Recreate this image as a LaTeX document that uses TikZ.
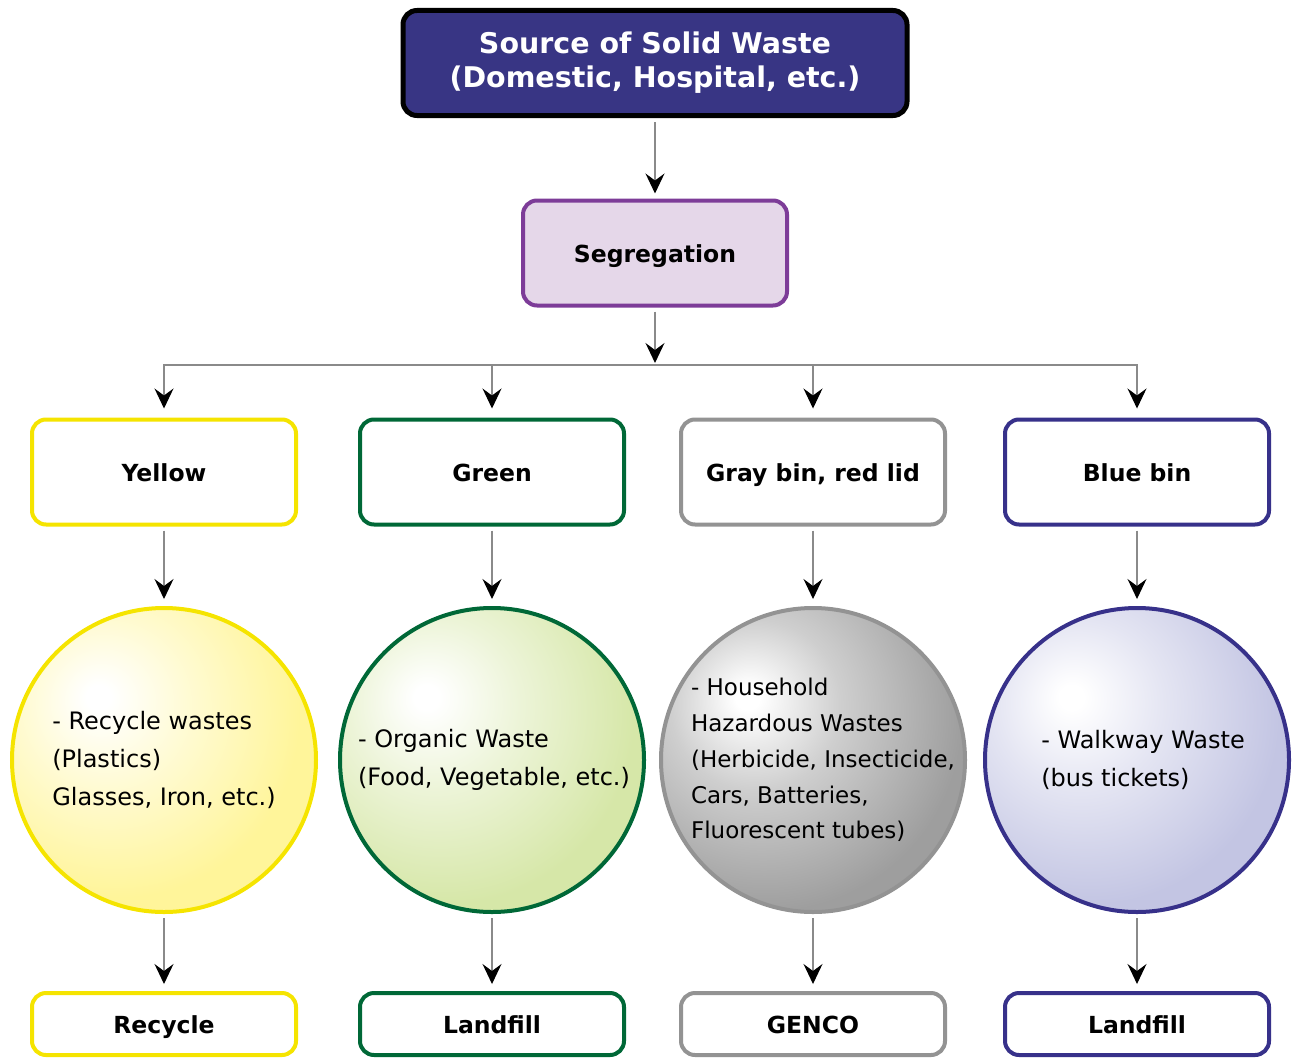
\documentclass[tikz,border=0pt]{standalone}
\usepackage{fontspec}
\setmainfont{DejaVu Sans}
\usetikzlibrary{shapes.geometric, arrows.meta, positioning}
\definecolor{sourceblue}{HTML}{383584}
\definecolor{segpurple}{HTML}{7D3C98}
\definecolor{segfill}{HTML}{E5D7E9}
\definecolor{binyellow}{HTML}{F5E400}
\definecolor{bingreen}{HTML}{006837}
\definecolor{bingray}{HTML}{939393}
\definecolor{binblue}{HTML}{37318A}
\definecolor{yellowfill}{HTML}{FFF59A}
\definecolor{greenfill}{HTML}{D6E7A8}
\definecolor{grayfill}{HTML}{9E9E9E}
\definecolor{bluefill}{HTML}{C3C5E3}
\definecolor{linegray}{HTML}{8A8A8A}
\pgfdeclareradialshading{yellowglow}{\pgfpoint{-11bp}{10.5bp}}{color(0bp)=(white); color(2bp)=(white); color(14bp)=(white!55!yellowfill); color(30bp)=(yellowfill); color(100bp)=(yellowfill)}
\pgfdeclareradialshading{greenglow}{\pgfpoint{-11bp}{10.5bp}}{color(0bp)=(white); color(2bp)=(white); color(14bp)=(white!55!greenfill); color(31bp)=(greenfill); color(100bp)=(greenfill)}
\pgfdeclareradialshading{grayglow}{\pgfpoint{-11bp}{10.5bp}}{color(0bp)=(white); color(2bp)=(white); color(14bp)=(white!50!grayfill); color(32bp)=(grayfill); color(100bp)=(grayfill)}
\pgfdeclareradialshading{blueglow}{\pgfpoint{-11bp}{10.5bp}}{color(0bp)=(white); color(2bp)=(white); color(14bp)=(white!55!bluefill); color(31bp)=(bluefill); color(100bp)=(bluefill)}

\begin{document}
\begin{tikzpicture}[x=1pt, y=-1pt]
    \tikzstyle{box} = [rectangle, rounded corners=14pt, line width=4pt, fill=white, minimum width=264pt, minimum height=105pt, align=center, text height=19pt, text depth=1pt, font=\fontsize{23.5}{28}\selectfont\bfseries]
    \tikzstyle{endbox} = [box, minimum height=62pt]
    \tikzstyle{bin} = [circle, line width=4pt, minimum size=304pt, inner sep=0pt]
    \tikzstyle{binnote} = [align=left, font=\fontsize{24}{38}\selectfont]
    \tikzstyle{arrow} = [line width=1.2pt, draw=linegray, -{Stealth[black, length=20pt, width=19pt, inset=7pt]}, shorten <=4pt, shorten >=7pt]

    \useasboundingbox (0,0) rectangle (1292,1057);

    \node (source) [box, minimum width=504pt, line width=5pt, draw=black, fill=sourceblue, text=white, text height=, text depth=, font=\fontsize{28.5}{34}\selectfont\bfseries] at (655,63) {Source of Solid Waste\\(Domestic, Hospital, etc.)};
    \node (seg) [box, below of=source, node distance=190pt, draw=segpurple, fill=segfill] {Segregation};
    \coordinate (split) at (655,365);

    % bins
    \node (ybin) [box, draw=binyellow] at (164,472) {Yellow};
    \node (gbin) [box, draw=bingreen] at (492,472) {Green};
    \node (rbin) [box, draw=bingray] at (813,472) {Gray bin, red lid};
    \node (bbin) [box, draw=binblue] at (1137,472) {Blue bin};

    % contents
    \node (ycirc) [bin, below of=ybin, node distance=288pt, draw=binyellow, shading=yellowglow] {};
    \node (gcirc) [bin, below of=gbin, node distance=288pt, draw=bingreen, shading=greenglow] {};
    \node (rcirc) [bin, below of=rbin, node distance=288pt, draw=bingray, shading=grayglow] {};
    \node (bcirc) [bin, below of=bbin, node distance=288pt, draw=binblue, shading=blueglow] {};
    \node (ynote) [binnote] at (ycirc) {- Recycle wastes\\(Plastics)\\Glasses, Iron, etc.)};
    \node (gnote) [binnote] at ([xshift=2pt]gcirc.center) {- Organic Waste\\(Food, Vegetable, etc.)};
    \node (rnote) [binnote, font=\fontsize{23}{35.8}\selectfont] at ([xshift=10pt]rcirc.center) {- Household\\Hazardous Wastes\\(Herbicide, Insecticide,\\Cars, Batteries,\\Fluorescent tubes)};
    \node (bnote) [binnote] at ([xshift=6pt]bcirc.center) {- Walkway Waste\\(bus tickets)};

    % destinations
    \node (yend) [endbox, below of=ycirc, node distance=264pt, draw=binyellow] {Recycle};
    \node (gend) [endbox, below of=gcirc, node distance=264pt, draw=bingreen] {Landfill};
    \node (rend) [endbox, below of=rcirc, node distance=264pt, draw=bingray] {GENCO};
    \node (bend) [endbox, below of=bcirc, node distance=264pt, draw=binblue] {Landfill};

    \draw [arrow, shorten >=5pt] (source) -- (seg);
    \draw [arrow, shorten >=2pt] (seg) -- (split);
    \draw [arrow, shorten <=0pt, shorten >=9pt] (split) -| (ybin);
    \draw [arrow, shorten <=0pt, shorten >=9pt] (split) -| (gbin);
    \draw [arrow, shorten <=0pt, shorten >=9pt] (split) -| (rbin);
    \draw [arrow, shorten <=0pt, shorten >=9pt] (split) -| (bbin);

    \draw [arrow] (ybin) -- (ycirc);
    \draw [arrow] (gbin) -- (gcirc);
    \draw [arrow] (rbin) -- (rcirc);
    \draw [arrow] (bbin) -- (bcirc);

    \draw [arrow] (ycirc) -- (yend);
    \draw [arrow] (gcirc) -- (gend);
    \draw [arrow] (rcirc) -- (rend);
    \draw [arrow] (bcirc) -- (bend);
\end{tikzpicture}
\end{document}
